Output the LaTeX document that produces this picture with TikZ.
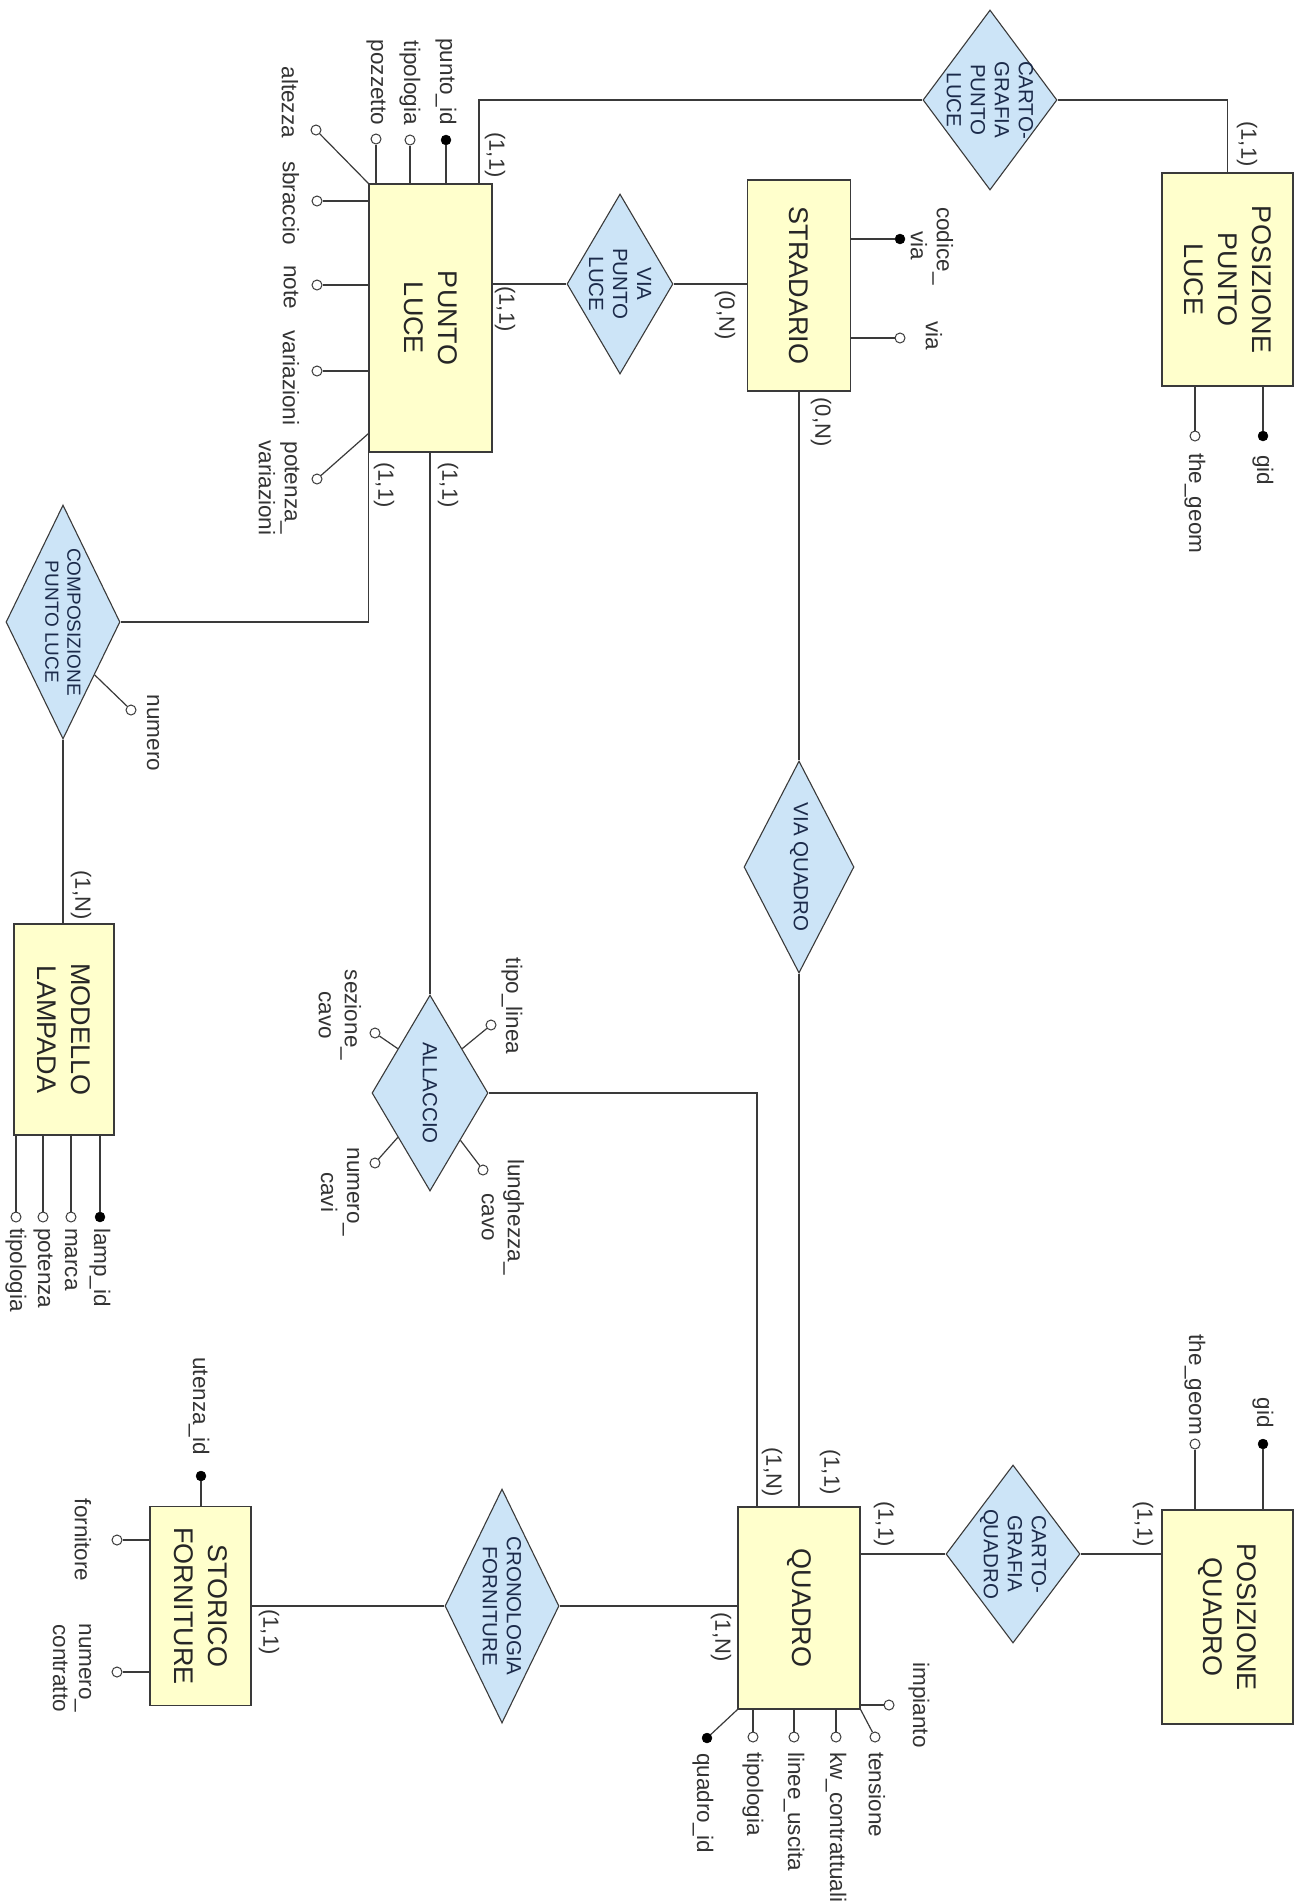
\documentclass[tikz,border=0pt]{standalone}
\usepackage{fontspec}
\setmainfont{Liberation Sans}
\usetikzlibrary{shapes.geometric,calc}
\definecolor{entfill}{HTML}{FFFFCC}
\definecolor{relfill}{HTML}{CCE4F7}
\definecolor{linec}{HTML}{3A3A3A}
\definecolor{reltextcol}{HTML}{1B2A4A}
\begin{document}
\begin{tikzpicture}[x=1pt,y=-1pt,
  ent/.style={draw=linec, fill=entfill, line width=1.3pt, rectangle, inner sep=0},
  rel/.style={draw=linec, fill=relfill, line width=1.1pt, diamond, inner sep=0},
  enttxt/.style={rotate=-90, align=center, font=\fontsize{27}{34}\selectfont, text=black!85},
  reltxt/.style={rotate=-90, align=center, font=\fontsize{20.5}{24}\selectfont, text=reltextcol},
  lbl/.style={rotate=-90, align=center, inner sep=0, font=\fontsize{22.5}{26}\selectfont, text=black!80},
  card/.style={rotate=-90, inner sep=0, font=\fontsize{22}{26}\selectfont, text=black!80},
  conn/.style={draw=linec, line width=1.2pt},
  attro/.style={circle, draw=linec, fill=white, line width=1pt, minimum size=10pt, inner sep=0},
  attrk/.style={circle, draw=black, fill=black, minimum size=10pt, inner sep=0}
]
\fill[white] (0,0) rectangle (1297,1901);
\useasboundingbox (0,0) rectangle (1297,1901);

% ---------- entities ----------
\node[ent, minimum width=123, minimum height=268] (pl) at (430.5,318) {};
\node[ent, minimum width=103, minimum height=211] (str) at (799,285.5) {};
\node[ent, minimum width=131, minimum height=213] (ppl) at (1227.5,279.5) {};
\node[ent, minimum width=100, minimum height=211] (ml) at (64,1029.5) {};
\node[ent, minimum width=122, minimum height=202] (q) at (799,1608) {};
\node[ent, minimum width=131, minimum height=214] (pq) at (1227.5,1617) {};
\node[ent, minimum width=101, minimum height=199] (sf) at (200.5,1606) {};

% ---------- relationships ----------
\node[rel, minimum width=106, minimum height=180] (vpl) at (620,284) {};
\node[rel, minimum width=134, minimum height=180] (cgpl) at (990,100) {};
\node[rel, minimum width=114, minimum height=234] (comp) at (63,622) {};
\node[rel, minimum width=116, minimum height=196] (all) at (430,1093) {};
\node[rel, minimum width=110, minimum height=212] (vq) at (799,867) {};
\node[rel, minimum width=134, minimum height=178] (cgq) at (1013,1554) {};
\node[rel, minimum width=114, minimum height=234] (cf) at (502,1606) {};

% ---------- texts ----------
\node[enttxt] at (pl) {PUNTO\\LUCE};
\node[enttxt] at (str) {STRADARIO};
\node[enttxt] at (ppl) {POSIZIONE\\PUNTO\\LUCE};
\node[enttxt] at (ml) {MODELLO\\LAMPADA};
\node[enttxt] at (q) {QUADRO};
\node[enttxt] at (pq) {POSIZIONE\\QUADRO};
\node[enttxt] at (sf) {STORICO\\FORNITURE};

\node[reltxt] at (vpl) {VIA\\PUNTO\\LUCE};
\node[reltxt] at (cgpl) {CARTO-\\GRAFIA\\PUNTO\\LUCE};
\node[reltxt, font=\fontsize{19}{22}\selectfont] at (comp) {COMPOSIZIONE\\PUNTO LUCE};
\node[reltxt] at (all) {ALLACCIO};
\node[reltxt] at (vq) {VIA QUADRO};
\node[reltxt] at (cgq) {CARTO-\\GRAFIA\\QUADRO};
\node[reltxt] at (cf) {CRONOLOGIA\\FORNITURE};

% ---------- connectors ----------
\coordinate (b1) at (479,100);
\draw[conn] (pl.north -| b1) -- (b1) -- (cgpl.west);
\draw[conn] (cgpl.east) -| (ppl.north);
\draw[conn] (pl.east |- vpl.west) -- (vpl.west);
\draw[conn] (vpl.east) -- (str.west |- vpl.east);
\draw[conn] (str.south) -- (vq.north);
\draw[conn] (vq.south) -- (q.north);
\draw[conn] (all.north |- pl.south) -- (all.north);
\coordinate (b2) at (757,1093);
\draw[conn] (all.east) -- (b2) -- (q.north -| b2);
\draw[conn] (pl.south west) |- (comp.east);
\draw[conn] (comp.south) -- (comp.south |- ml.north);
\draw[conn] (sf.east) -- (cf.west);
\draw[conn] (cf.east) -- (cf.east -| q.west);
\draw[conn] (q.east |- cgq.west) -- (cgq.west);
\draw[conn] (cgq.east) -- (cgq.east -| pq.west);

% ---------- cardinalities ----------
\node[card] at (495,155) {(1,1)};
\node[card] at (505,309) {(1,1)};
\node[card] at (448,485) {(1,1)};
\node[card] at (384,485) {(1,1)};
\node[card] at (725,315) {(0,N)};
\node[card] at (821,422) {(0,N)};
\node[card] at (1247,144) {(1,1)};
\node[card] at (81,895) {(1,N)};
\node[card] at (772,1472) {(1,N)};
\node[card] at (830,1472) {(1,1)};
\node[card] at (884,1524) {(1,1)};
\node[card] at (721,1637) {(1,N)};
\node[card] at (1143,1524) {(1,1)};
\node[card] at (269,1632) {(1,1)};

% ---------- PUNTO LUCE attributes ----------
\node[attrk] (pl1) at (446,140) {};
\node[attro] (pl2) at (410,140) {};
\node[attro] (pl3) at (376,139) {};
\node[attro] (pl4) at (316,130) {};
\node[attro] (pl5) at (317,201) {};
\node[attro] (pl6) at (317,285) {};
\node[attro] (pl7) at (317,371) {};
\node[attro] (pl8) at (317,479) {};
\draw[conn] (pl1) -- (pl1 |- pl.north);
\draw[conn] (pl2) -- (pl2 |- pl.north);
\draw[conn] (pl3) -- (pl3 |- pl.north);
\draw[conn] (pl4) -- (pl.north west);
\draw[conn] (pl5) -- (pl5 -| pl.west);
\draw[conn] (pl6) -- (pl6 -| pl.west);
\draw[conn] (pl7) -- (pl7 -| pl.west);
\draw[conn] (pl8) -- ($(pl.south west)+(0,-19)$);
\node[lbl, anchor=east] at (446,125) {punto\_id};
\node[lbl, anchor=east] at (410,125) {tipologia};
\node[lbl, anchor=east] at (376,125) {pozzetto};
\node[lbl, anchor=east] at (290,138) {altezza};
\node[lbl] at (291,203) {sbraccio};
\node[lbl] at (291,287) {note};
\node[lbl] at (291,378) {variazioni};
\node[lbl] at (279,488) {potenza\_\\variazioni};

% ---------- STRADARIO attributes ----------
\node[attrk] (s1) at (900,239) {};
\node[attro] (s2) at (900,338) {};
\draw[conn] (s1) -- (s1 -| str.east);
\draw[conn] (s2) -- (s2 -| str.east);
\node[lbl] at (932,246) {codice\_\\via};
\node[lbl] at (934,336) {via};

% ---------- POSIZIONE PUNTO LUCE attributes ----------
\node[attrk] (p1) at (1263,436) {};
\node[attro] (p2) at (1195,436) {};
\draw[conn] (p1) -- (p1 |- ppl.south);
\draw[conn] (p2) -- (p2 |- ppl.south);
\node[lbl, anchor=west] at (1263,455) {gid};
\node[lbl, anchor=west] at (1195,453) {the\_geom};

% ---------- COMPOSIZIONE attribute ----------
\node[attro] (c1) at (131,710) {};
\draw[conn] (c1) -- ($(comp.east)!0.45!(comp.south)$);
\node[lbl] at (153,733) {numero};

% ---------- MODELLO LAMPADA attributes ----------
\node[attrk] (m1) at (100,1217) {};
\node[attro] (m2) at (71,1217) {};
\node[attro] (m3) at (43,1217) {};
\node[attro] (m4) at (16,1217) {};
\draw[conn] (m1) -- (m1 |- ml.south);
\draw[conn] (m2) -- (m2 |- ml.south);
\draw[conn] (m3) -- (m3 |- ml.south);
\draw[conn] (m4) -- (m4 |- ml.south);
\node[lbl, anchor=west] at (100,1228) {lamp\_id};
\node[lbl, anchor=west] at (71,1228) {marca};
\node[lbl, anchor=west] at (43,1228) {potenza};
\node[lbl, anchor=west] at (16,1228) {tipologia};

% ---------- ALLACCIO attributes ----------
\node[attro] (a1) at (491,1025) {};
\node[attro] (a2) at (375,1033) {};
\node[attro] (a3) at (375,1163) {};
\node[attro] (a4) at (483,1170) {};
\draw[conn] (a1) -- ($(all.north)!0.55!(all.east)$);
\draw[conn] (a2) -- ($(all.north)!0.55!(all.west)$);
\draw[conn] (a3) -- ($(all.south)!0.55!(all.west)$);
\draw[conn] (a4) -- ($(all.south)!0.52!(all.east)$);
\node[lbl] at (512,1006) {tipo\_linea};
\node[lbl] at (340,1015) {sezione\_\\cavo};
\node[lbl] at (340,1192) {numero\_\\cavi};
\node[lbl] at (503,1217) {lunghezza\_\\cavo};

% ---------- QUADRO attributes ----------
\node[attro] (q1) at (889,1705) {};
\node[attro] (q2) at (875,1737) {};
\node[attro] (q3) at (836,1737) {};
\node[attro] (q4) at (794,1737) {};
\node[attro] (q5) at (753,1737) {};
\node[attrk] (q6) at (707,1738) {};
\draw[conn] (q1) -- (q1 -| q.east);
\draw[conn] (q2) -- (q.south east);
\draw[conn] (q3) -- (q3 |- q.south);
\draw[conn] (q4) -- (q4 |- q.south);
\draw[conn] (q5) -- (q5 |- q.south);
\draw[conn] (q6) -- (q.south west);
\node[lbl] at (919,1705) {impianto};
\node[lbl, anchor=west] at (877,1752) {tensione};
\node[lbl, anchor=west] at (836,1752) {kw\_contrattuali};
\node[lbl, anchor=west] at (794,1752) {linee\_uscita};
\node[lbl, anchor=west] at (753,1752) {tipologia};
\node[lbl, anchor=west] at (703,1753) {quadro\_id};

% ---------- POSIZIONE QUADRO attributes ----------
\node[attrk] (pq1) at (1263,1444) {};
\node[attro] (pq2) at (1195,1444) {};
\draw[conn] (pq1) -- (pq1 |- pq.north);
\draw[conn] (pq2) -- (pq2 |- pq.north);
\node[lbl, anchor=east] at (1263,1428) {gid};
\node[lbl, anchor=east] at (1195,1435) {the\_geom};

% ---------- STORICO FORNITURE attributes ----------
\node[attrk] (sf1) at (201,1476) {};
\node[attro] (sf2) at (117,1540) {};
\node[attro] (sf3) at (117,1672) {};
\draw[conn] (sf1) -- (sf1 |- sf.north);
\draw[conn] (sf2) -- (sf2 -| sf.west);
\draw[conn] (sf3) -- (sf3 -| sf.west);
\node[lbl, anchor=east] at (199,1455) {utenza\_id};
\node[lbl] at (83,1540) {fornitore};
\node[lbl] at (72,1668) {numero\_\\contratto};
\end{tikzpicture}
\end{document}
